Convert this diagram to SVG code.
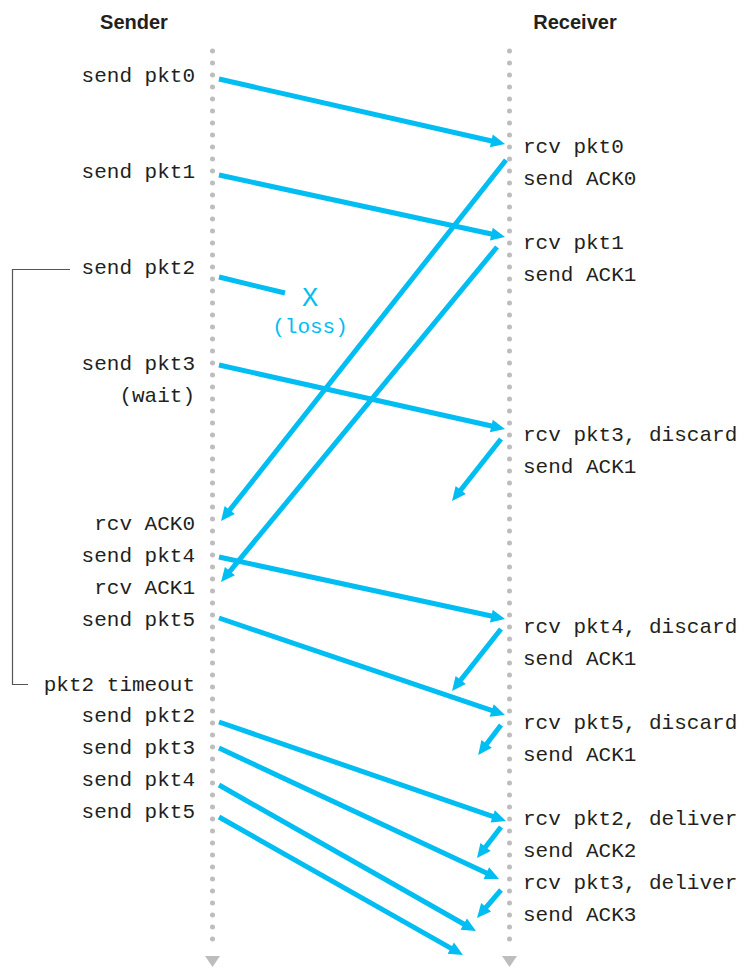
<svg xmlns="http://www.w3.org/2000/svg" width="744" height="968" viewBox="0 0 744 968">
<defs>
<style>
.hd{font-family:"Liberation Sans",Arial,sans-serif;font-weight:bold;font-size:20px;fill:#231f20;text-anchor:middle}
.t{font-family:"Liberation Mono","Courier New",monospace;font-size:21px;fill:#231f20}
.s{text-anchor:end}
.life{stroke:#bdbdbd;stroke-width:5;stroke-linecap:round;stroke-dasharray:0 12;fill:none}
.a{stroke:#00bdf2;stroke-width:5;fill:none;marker-end:url(#ah)}
.br{stroke:#555;stroke-width:1.2;fill:none}
.c{fill:#00bdf2}
</style>
<marker id="ah" markerUnits="userSpaceOnUse" viewBox="-6 -7 14 14" refX="0" refY="0" markerWidth="14" markerHeight="14" orient="auto" overflow="visible">
<path d="M-6,-6.5 L8,0 L-6,6.5 Z" fill="#00bdf2"/>
</marker>
</defs>
<rect width="744" height="968" fill="#fff"/>

<g id="sender">
<text class="hd" x="134" y="29">Sender</text>
<line class="life" x1="212.5" y1="51" x2="212.5" y2="951"/>
<path d="M205,956 L220,956 L212.5,967 Z" fill="#bdbdbd"/>
</g>
<g id="receiver">
<text class="hd" x="575" y="29">Receiver</text>
<line class="life" x1="509.5" y1="51" x2="509.5" y2="951"/>
<path d="M502,956 L517,956 L509.5,967 Z" fill="#bdbdbd"/>
</g>

<g id="sender-events" class="t s">
<text class="t s" x="195" y="82">send pkt0</text>
<text class="t s" x="195" y="178">send pkt1</text>
<text class="t s" x="195" y="274">send pkt2</text>
<text class="t s" x="195" y="370">send pkt3</text>
<text class="t s" x="195" y="402">(wait)</text>
<text class="t s" x="195" y="530">rcv ACK0</text>
<text class="t s" x="195" y="562">send pkt4</text>
<text class="t s" x="195" y="594">rcv ACK1</text>
<text class="t s" x="195" y="626">send pkt5</text>
<text class="t s" x="195" y="691">pkt2 timeout</text>
<text class="t s" x="195" y="722">send pkt2</text>
<text class="t s" x="195" y="754">send pkt3</text>
<text class="t s" x="195" y="786">send pkt4</text>
<text class="t s" x="195" y="818">send pkt5</text>
</g>

<g id="receiver-events">
<text class="t" x="523" y="153">rcv pkt0</text>
<text class="t" x="523" y="185">send ACK0</text>
<text class="t" x="523" y="249">rcv pkt1</text>
<text class="t" x="523" y="281">send ACK1</text>
<text class="t" x="523" y="441">rcv pkt3, discard</text>
<text class="t" x="523" y="473">send ACK1</text>
<text class="t" x="523" y="633">rcv pkt4, discard</text>
<text class="t" x="523" y="665">send ACK1</text>
<text class="t" x="523" y="729">rcv pkt5, discard</text>
<text class="t" x="523" y="761">send ACK1</text>
<text class="t" x="523" y="825">rcv pkt2, deliver</text>
<text class="t" x="523" y="857">send ACK2</text>
<text class="t" x="523" y="889">rcv pkt3, deliver</text>
<text class="t" x="523" y="921">send ACK3</text>
</g>

<g id="loss">
<text class="t c" x="310" y="306" text-anchor="middle" style="font-size:27px">X</text>
<text class="t c" x="310" y="333" text-anchor="middle">(loss)</text>
</g>

<g id="timeout-bracket">
<path class="br" d="M70,269.5 H12.5 V684.5 H28"/>
</g>

<g id="connectors">
<line class="a" x1="219" y1="79" x2="497.2" y2="142.2"/>
<line class="a" x1="219" y1="175" x2="497.2" y2="235.3"/>
<line class="a" x1="506" y1="160" x2="226" y2="514.7"/>
<line class="a" x1="497" y1="247" x2="226.1" y2="575.8"/>
<line stroke="#00bdf2" stroke-width="5" x1="219" y1="277" x2="285" y2="293"/>
<line class="a" x1="219" y1="365" x2="497.2" y2="427.3"/>
<line class="a" x1="501" y1="439" x2="457" y2="494.7"/>
<line class="a" x1="219" y1="557" x2="497.2" y2="617.3"/>
<line class="a" x1="501" y1="629" x2="457" y2="684.8"/>
<line class="a" x1="219" y1="618" x2="497.4" y2="712.4"/>
<line class="a" x1="501" y1="725" x2="483" y2="748.7"/>
<line class="a" x1="219" y1="722" x2="498.4" y2="818.4"/>
<line class="a" x1="501" y1="827" x2="481.9" y2="851.7"/>
<line class="a" x1="219" y1="748" x2="491.8" y2="875.6"/>
<line class="a" x1="501" y1="890" x2="482.2" y2="911.9"/>
<line class="a" x1="219" y1="785" x2="469" y2="927"/>
<line class="a" x1="219" y1="817" x2="456" y2="951.1"/>
</g>
</svg>
